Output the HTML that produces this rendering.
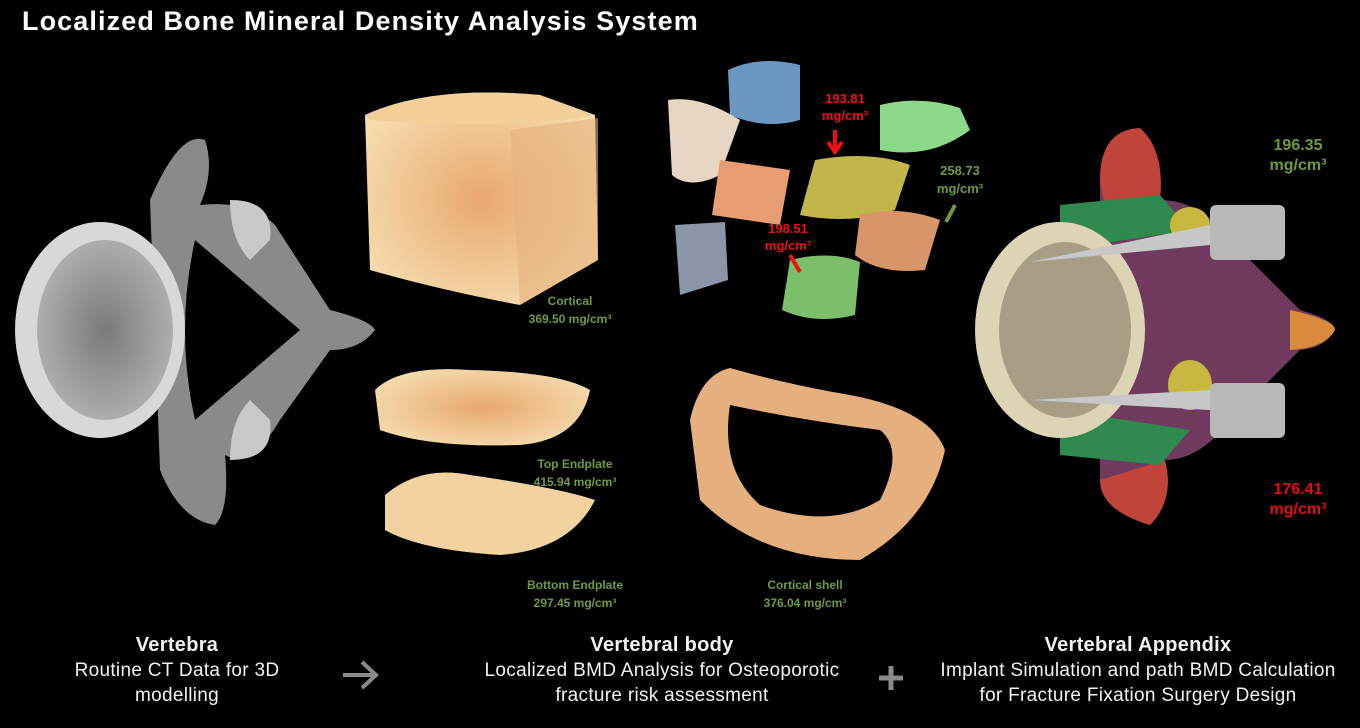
<!DOCTYPE html>
<html><head><meta charset="utf-8"><style>
html,body{margin:0;padding:0;background:#000;}
body{width:1360px;height:728px;position:relative;overflow:hidden;font-family:"Liberation Sans",sans-serif;}
.t{position:absolute;white-space:nowrap;}
.c{transform:translateX(-50%);text-align:center;}
.g{color:#6f9a3e;font-size:12px;font-weight:bold;line-height:18px;}
.r{color:#f01010;font-size:13px;font-weight:bold;line-height:17px;}
.cap{color:#f2f2f2;font-size:19px;line-height:25px;letter-spacing:0.3px;}
.cap b{font-size:20px;}
</style></head><body>
<svg width="1360" height="728" style="position:absolute;left:0;top:0">
<defs>
<radialGradient id="or" cx="50%" cy="50%" r="60%"><stop offset="0" stop-color="#e9a870"/><stop offset="1" stop-color="#f6deb0"/></radialGradient>
<radialGradient id="gr" cx="50%" cy="50%" r="60%"><stop offset="0" stop-color="#7a7a7a"/><stop offset="1" stop-color="#b8b8b8"/></radialGradient>
</defs>
<g>
<path d="M150 200 Q180 130 205 140 Q215 170 200 205 Q250 200 275 225 L330 310 Q370 320 375 330 Q360 350 330 350 L280 420 Q250 470 225 455 Q230 510 215 525 Q180 520 160 470 Z" fill="#8a8a8a"/>
<path d="M230 200 Q275 200 270 240 L250 260 Q230 240 230 200Z M230 460 Q275 460 270 420 L250 400 Q230 420 230 460Z" fill="#c9c9c9"/>
<path d="M195 240 L300 330 L195 420 Q175 330 195 240Z" fill="#000"/>
<ellipse cx="100" cy="330" rx="85" ry="108" fill="#d8d8d8"/>
<ellipse cx="105" cy="330" rx="68" ry="90" fill="url(#gr)"/>
</g>
<path d="M365 115 Q430 85 540 95 L595 115 L598 260 L520 305 Q440 290 370 270 Z" fill="url(#or)"/>
<path d="M365 115 Q430 85 540 95 L595 115 Q520 130 370 120Z" fill="#f3d09a"/>
<path d="M510 130 L598 118 L598 260 L520 305 Z" fill="#e6b07e" opacity=".6"/>
<path d="M375 390 Q400 365 470 370 Q560 372 590 390 Q580 440 520 445 Q430 448 380 430 Z" fill="url(#or)"/>
<path d="M385 495 Q420 465 470 475 Q560 488 595 500 Q570 550 500 555 Q420 550 385 530 Z" fill="#f2d3a0"/>
<path d="M690 420 Q700 375 730 368 Q790 385 850 395 Q930 410 945 450 Q930 520 860 560 Q760 560 700 500 Z" fill="#e6b07e"/>
<path d="M730 405 Q800 420 880 430 Q905 450 880 500 Q830 530 760 505 Q720 470 730 405Z" fill="#000"/>
<path d="M728 70 Q760 55 800 65 L800 120 Q765 130 730 115 Z" fill="#6a98c2"/>
<path d="M668 100 Q700 95 740 120 L720 175 Q690 190 672 175 Z" fill="#e7d6c4"/>
<path d="M880 105 Q920 95 960 108 L970 130 Q930 160 880 150 Z" fill="#8ed88a"/>
<path d="M720 160 L790 170 L780 225 L712 215 Z" fill="#e89d72"/>
<path d="M815 160 Q870 150 910 165 L895 210 Q850 225 800 215 Z" fill="#c2b64a"/>
<path d="M860 215 Q900 205 940 220 L925 270 Q880 275 855 255 Z" fill="#d8956a"/>
<path d="M675 225 L725 222 L728 280 L680 295 Z" fill="#8c94a8"/>
<path d="M790 260 Q830 250 860 262 L855 315 Q815 325 782 310 Z" fill="#7cbf6a"/>
<path d="M835 130 L835 148 M828 142 L835 152 L842 142" stroke="#f01010" stroke-width="4" fill="none"/>
<path d="M790 255 L800 272" stroke="#f01010" stroke-width="4"/>
<path d="M955 205 L946 222" stroke="#6f9a3e" stroke-width="4"/>
<path d="M1100 180 Q1100 130 1140 128 Q1165 150 1160 200 Q1200 200 1230 240 L1300 310 Q1335 320 1335 330 Q1325 348 1300 350 L1230 420 Q1200 460 1165 460 Q1175 500 1150 525 Q1100 510 1100 480 Z" fill="#6f3a5e"/>
<path d="M1100 180 Q1100 130 1140 128 Q1165 150 1160 200 L1105 210Z M1100 480 Q1100 510 1150 525 Q1175 500 1165 460Z" fill="#c0443a"/>
<path d="M1060 205 L1160 195 L1190 230 L1060 250 Z M1060 455 L1160 465 L1190 430 L1060 410 Z" fill="#2e8a4e"/>
<path d="M1290 310 Q1335 320 1335 330 Q1325 348 1290 350Z" fill="#d98a3a"/>
<ellipse cx="1190" cy="225" rx="20" ry="18" fill="#c8b840"/>
<ellipse cx="1190" cy="385" rx="22" ry="25" fill="#c8b840"/>
<ellipse cx="1060" cy="330" rx="85" ry="108" fill="#ddd3b5"/>
<ellipse cx="1065" cy="330" rx="66" ry="88" fill="#a89e86"/>
<path d="M1030 262 L1210 225 L1210 245 Z" fill="#c8c8c8"/>
<rect x="1210" y="205" width="75" height="55" rx="6" fill="#b8b8b8"/>
<path d="M1030 400 L1210 390 L1210 410 Z" fill="#c8c8c8"/>
<rect x="1210" y="383" width="75" height="55" rx="6" fill="#b8b8b8"/>
<path d="M343 675 L375 675 M362 662 L376 675 L362 688" stroke="#8a8a8a" stroke-width="4" fill="none"/>
<path d="M891 666 L891 690 M879 678 L903 678" stroke="#8a8a8a" stroke-width="5"/>
</svg>
<div class="t" style="left:22px;top:6px;color:#fff;font-size:27px;font-weight:bold;letter-spacing:1.1px">Localized Bone Mineral Density Analysis System</div>
<div class="t c g" style="left:570px;top:292px">Cortical<br>369.50 mg/cm³</div>
<div class="t c g" style="left:575px;top:455px">Top Endplate<br>415.94 mg/cm³</div>
<div class="t c g" style="left:575px;top:576px">Bottom Endplate<br>297.45 mg/cm³</div>
<div class="t c g" style="left:805px;top:576px">Cortical shell<br>376.04 mg/cm³</div>
<div class="t c r" style="left:845px;top:90px">193.81<br>mg/cm³</div>
<div class="t c r" style="left:788px;top:220px">198.51<br>mg/cm³</div>
<div class="t c g" style="left:960px;top:162px;font-size:13px">258.73<br>mg/cm³</div>
<div class="t c" style="left:1298px;top:136px;color:#6f9a3e;font-weight:bold;font-size:16px;line-height:20px">196.35<br>mg/cm³</div>
<div class="t c" style="left:1298px;top:480px;color:#e01010;font-weight:bold;font-size:16px;line-height:20px">176.41<br>mg/cm³</div>
<div class="t c cap" style="left:177px;top:633px"><b>Vertebra</b><br>Routine CT Data for 3D<br>modelling</div>
<div class="t c cap" style="left:662px;top:633px"><b>Vertebral body</b><br>Localized BMD Analysis for Osteoporotic<br>fracture risk assessment</div>
<div class="t c cap" style="left:1138px;top:633px"><b>Vertebral Appendix</b><br>Implant Simulation and path BMD Calculation<br>for Fracture Fixation Surgery Design</div>
</body></html>
